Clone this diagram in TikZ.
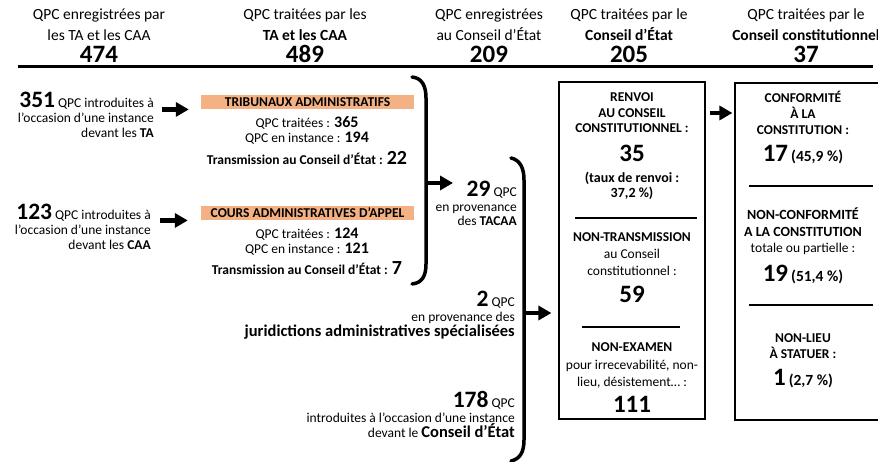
\documentclass[tikz,border=0pt]{standalone}
\usepackage{fontspec}
\setmainfont{Carlito}
\usetikzlibrary{positioning, arrows.meta}

\definecolor{peche}{RGB}{244,177,131}

\newcommand{\grosnb}[1]{{\fontsize{25}{25}\selectfont\bfseries #1}}
\newcommand{\moynb}[1]{{\fontsize{23.5}{23.5}\selectfont\bfseries #1}}
\newcommand{\transnb}[1]{{\fontsize{20}{20}\selectfont\bfseries #1}}
\newcommand{\petitnb}[1]{{\fontsize{16}{16}\selectfont\bfseries #1}}
\newcommand{\pct}[1]{{\fontsize{15.5}{15.5}\selectfont\bfseries #1}}
\newcommand{\gras}[1]{{\fontsize{16.5}{16.5}\selectfont\bfseries #1}}

\begin{document}
\begin{tikzpicture}[
    x=1pt, y=-1pt,
    txt/.style={inner sep=0, anchor=base, align=center, font=\fontsize{13.5}{15.5}\selectfont},
    txtg/.style={txt, font=\fontsize{13.5}{15.5}\selectfont\bfseries},
    entete/.style={txt, font=\fontsize{15.5}{21}\selectfont},
    droite/.style={txt, align=right, anchor=base east, font=\fontsize{13.5}{15}\selectfont},
    bandeau/.style={fill=peche, inner sep=0, minimum width=213, minimum height=14.5, font=\fontsize{13.5}{15}\selectfont\bfseries},
    cadre/.style={draw, line width=1.2pt, inner sep=0},
    fleche/.style={line width=4.5pt, -{Triangle[length=13pt, width=14pt]}},
    accolade/.style={line width=3.5pt, line cap=round}
]
\useasboundingbox (0,0) rectangle (878,462);

% En-tetes des colonnes (base = derniere ligne)
\foreach \cx/\la/\lb/\nb [count=\i] in {
    99/QPC enregistrées par/les TA et les CAA/474,
    305/QPC traitées par les/\textbf{TA et les CAA}/489,
    489/QPC enregistrées/au Conseil d’État/209,
    629/QPC traitées par le/\textbf{Conseil d’État}/205,
    806/QPC traitées par le/\textbf{Conseil constitutionnel}/37} {
  \node[entete] (hd\i) at (\cx,41) {\la\\\lb};
  \node[txt] (nb\i) at (\cx,63) {\grosnb{\nb}};
}
\draw[line width=3pt] (18,67) -- (873,67);

% Entrees TA et CAA
\node[droite] (in351) at (154,138) {\moynb{351} QPC introduites à\\l’occasion d’une instance\\devant les \textbf{TA}};
\node[droite] (in123) at (151,250) {\moynb{123} QPC introduites à\\l’occasion d’une instance\\devant les \textbf{CAA}};

% Tribunaux administratifs
\node[bandeau] (ta) at (307.5,102) {TRIBUNAUX ADMINISTRATIFS};
\node[txt, font=\fontsize{13.5}{15}\selectfont] (tastat) at (307,143) {QPC traitées : \petitnb{365}\\QPC en instance : \petitnb{194}};
\node[txtg] (tatrans) at (307,165) {Transmission au Conseil d’État : \transnb{22}};

% Cours administratives d'appel
\node[bandeau] (caa) at (307.5,213) {COURS ADMINISTRATIVES D’APPEL};
\node[txt, font=\fontsize{13.5}{15}\selectfont] (caastat) at (307,254) {QPC traitées : \petitnb{124}\\QPC en instance : \petitnb{121}};
\node[txtg] (caatrans) at (307,275) {Transmission au Conseil d’État : \transnb{7}};

\draw[fleche, shorten <=8pt, shorten >=12pt] (in351.east |- ta.south) -- (ta.west |- ta.south);
\draw[fleche, shorten <=9pt, shorten >=13pt] (in123.east |- caa.south) -- (caa.west |- caa.south);

% Premiere accolade
\draw[accolade] (412,77) .. controls (422,78) and (426,86) .. (426,98) -- (426,264) .. controls (426,276) and (422,283) .. (412,284);
\coordinate (b1) at (426,183);
\coordinate (b1fin) at (453,183);
\draw[fleche] (b1) -- (b1fin);

% Entrees du Conseil d'Etat
\node[droite, font=\fontsize{13.5}{14.5}\selectfont] (tacaa) at (517,226) {\moynb{29} QPC\\en provenance\\des \textbf{TACAA}};
\node[droite] (jas) at (515,336) {\moynb{2} QPC\\en provenance des\\\gras{juridictions administratives spécialisées}};
\node[droite] (in178) at (515,437) {\moynb{178} QPC\\introduites à l’occasion d’une instance\\devant le \gras{Conseil d’État}};

% Seconde accolade
\draw[accolade] (511,158) .. controls (520,160) and (524,168) .. (524,180) -- (524,440) .. controls (524,452) and (520,459) .. (511,461);
\coordinate (b2) at (524,313);

% Conseil d'Etat
\node[cadre, minimum width=146, minimum height=337] (ce) at (632,250.5) {};
\draw[fleche, shorten >=7pt] (b2) -- (b2 -| ce.west);
\node[txtg] (renvoi) at (632,133) {RENVOI\\AU CONSEIL\\CONSTITUTIONNEL :};
\node[txt] (n35) at (632,162) {\grosnb{35}};
\node[txtg, font=\fontsize{14}{15}\selectfont\bfseries] (taux) at (632,198) {(taux de renvoi :\\37,2 \%)};
\draw[line width=1.2pt] (575,218) -- (697,218);
\node[txtg] (nontrans) at (632,242) {NON-TRANSMISSION};
\node[txt, font=\fontsize{13.5}{17}\selectfont] (aucc) at (632,276) {au Conseil\\constitutionnel :};
\node[txt] (n59) at (632,302) {\grosnb{59}};
\draw[line width=1.2pt] (582,327) -- (680,327);
\node[txtg] (nonexam) at (632,352) {NON-EXAMEN};
\node[txt, font=\fontsize{13.5}{16.5}\selectfont] (irrec) at (632,386) {pour irrecevabilité, non-\\lieu, désistement… :};
\node[txt] (n111) at (632,412) {\grosnb{111}};

% Conseil constitutionnel
\node[cadre, minimum width=151, minimum height=337] (cc) at (810.5,251.5) {};
\coordinate (k) at (0,113);
\draw[fleche, shorten <=4pt, shorten >=2pt] (ce.east |- k) -- (cc.west |- k);
\node[txtg, font=\fontsize{13.5}{16}\selectfont\bfseries] (conf) at (803,135) {CONFORMITÉ\\À LA\\CONSTITUTION :};
\node[txt] (n17) at (803,162) {\grosnb{17} \pct{(45,9 \%)}};
\draw[line width=1.2pt] (749,186) -- (873,186);
\node[txtg, font=\fontsize{14}{17}\selectfont\bfseries] (nonconf) at (803,237) {NON-CONFORMITÉ\\A LA CONSTITUTION};
\node[txt] (partielle) at (803,253) {totale ou partielle :};
\node[txt] (n19) at (803,282) {\grosnb{19} \pct{(51,4 \%)}};
\draw[line width=1.2pt] (749,305) -- (873,305);
\node[txtg, font=\fontsize{13.5}{16}\selectfont\bfseries] (nonlieu) at (803,358) {NON-LIEU\\À STATUER :};
\node[txt] (n1) at (803,385) {\grosnb{1} \pct{(2,7 \%)}};

\end{tikzpicture}
\end{document}
